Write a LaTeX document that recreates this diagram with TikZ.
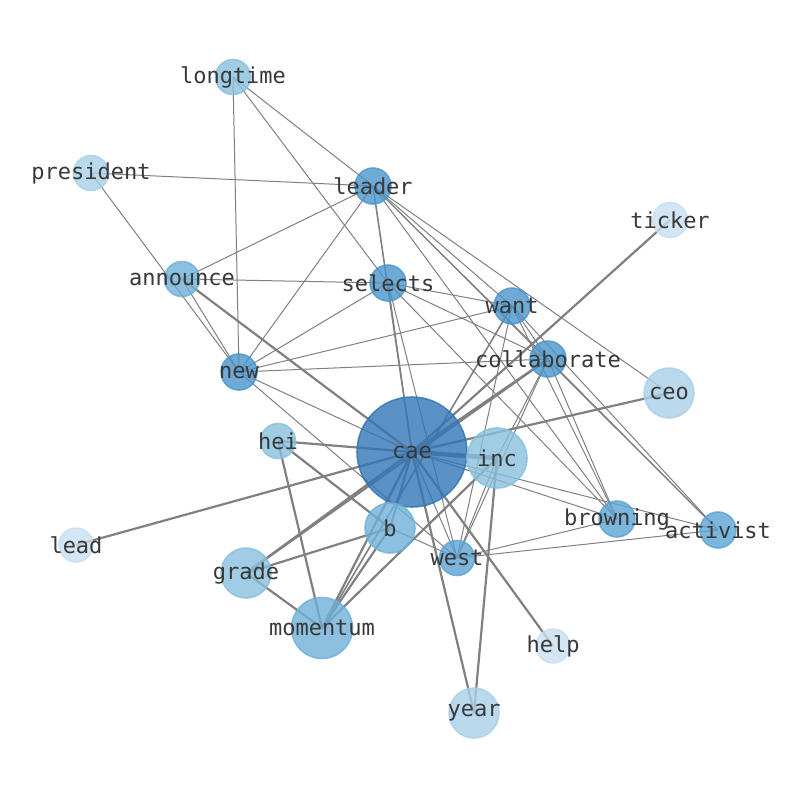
\documentclass[tikz,border=0pt]{standalone}
\usepackage{fontspec}
\setmonofont{DejaVu Sans Mono}
\usetikzlibrary{backgrounds}
\definecolor{cA}{HTML}{3275B5}
\definecolor{cB}{HTML}{4A95CC}
\definecolor{cC}{HTML}{5CA4D3}
\definecolor{cD}{HTML}{6FB0D8}
\definecolor{cE}{HTML}{88BFDD}
\definecolor{cF}{HTML}{AACFE7}
\definecolor{cG}{HTML}{C9DEF1}
\definecolor{edgegray}{HTML}{808080}
\definecolor{labelgray}{HTML}{383838}
\tikzset{
  vtx/.style={circle, inner sep=0pt, minimum size=#1, line width=1.6pt, fill opacity=0.8, draw opacity=0.8},
  lbl/.style={inner sep=0pt, text=labelgray, font=\ttfamily\fontsize{22}{26}\selectfont},
  thin/.style={draw=edgegray, line width=1pt},
  thick/.style={draw=edgegray, line width=2.2pt},
}
\begin{document}
\begin{tikzpicture}[x=1pt,y=-1pt]
\useasboundingbox (0,0) rectangle (794,790);
% nodes
\node[vtx=35pt, fill=cE, draw=cE] (longtime) at (233,77) {};
\node[vtx=35pt, fill=cF, draw=cF] (president) at (91,173) {};
\node[vtx=36pt, fill=cB, draw=cB] (leader) at (373,186) {};
\node[vtx=35pt, fill=cG, draw=cG] (ticker) at (670,220) {};
\node[vtx=35pt, fill=cD, draw=cD] (announce) at (182,279) {};
\node[vtx=36pt, fill=cB, draw=cB] (selects) at (388,283) {};
\node[vtx=36pt, fill=cB, draw=cB] (want) at (512,306) {};
\node[vtx=36pt, fill=cB, draw=cB] (collaborate) at (548,359) {};
\node[vtx=36pt, fill=cB, draw=cB] (new) at (239,372) {};
\node[vtx=50pt, fill=cF, draw=cF] (ceo) at (669,393) {};
\node[vtx=35pt, fill=cE, draw=cE] (hei) at (278,441) {};
\node[vtx=110pt, fill=cA, draw=cA] (cae) at (412,452) {};
\node[vtx=60pt, fill=cE, draw=cE] (inc) at (497,458) {};
\node[vtx=36pt, fill=cC, draw=cC] (browning) at (617,519) {};
\node[vtx=36pt, fill=cC, draw=cC] (activist) at (718,530) {};
\node[vtx=50pt, fill=cD, draw=cD] (b) at (390,528) {};
\node[vtx=34pt, fill=cG, draw=cG] (lead) at (76,545) {};
\node[vtx=35pt, fill=cC, draw=cC] (west) at (457,558) {};
\node[vtx=50pt, fill=cE, draw=cE] (grade) at (246,573) {};
\node[vtx=61pt, fill=cD, draw=cD] (momentum) at (322,628) {};
\node[vtx=34pt, fill=cG, draw=cG] (help) at (553,646) {};
\node[vtx=50pt, fill=cF, draw=cF] (year) at (474,713) {};
% edges
\begin{pgfonlayer}{background}
\foreach \a/\b in {longtime/leader, longtime/selects, longtime/new, president/leader, president/new,
  announce/leader, announce/selects, announce/new, leader/new, leader/ceo, leader/want,
  leader/collaborate, leader/browning, leader/activist, selects/new, selects/want,
  selects/collaborate, selects/browning, selects/west, selects/cae, new/want, new/collaborate,
  new/cae, new/west, want/collaborate, want/browning, want/activist, want/west,
  collaborate/inc, collaborate/west, collaborate/browning, collaborate/activist,
  cae/west, cae/browning, cae/activist, inc/west, b/west, west/browning, west/activist}
  \draw[thin] (\a.center) -- (\b.center);
\foreach \a/\b in {announce/cae, hei/cae, lead/cae, cae/ceo, cae/ticker, cae/collaborate,
  cae/grade, cae/b, cae/momentum, cae/year, cae/help, grade/collaborate, grade/b,
  grade/momentum, momentum/b, momentum/hei, momentum/inc, hei/b, inc/year}
  \draw[thick] (\a.center) -- (\b.center);
\draw[draw=edgegray, line width=1.6pt] (momentum.center) -- (want.center);
\draw[draw=edgegray, line width=1.6pt] (leader.center) -- (cae.center);
\draw[draw=edgegray, line width=4.5pt] (cae.center) -- (inc.center);
\end{pgfonlayer}
% labels
\foreach \n in {longtime, president, leader, ticker, announce, selects, want, collaborate, new,
  ceo, hei, cae, inc, browning, activist, b, lead, west, grade, momentum, help, year}
  \node[lbl] (l-\n) at (\n.center) {\n};
\end{tikzpicture}
\end{document}
